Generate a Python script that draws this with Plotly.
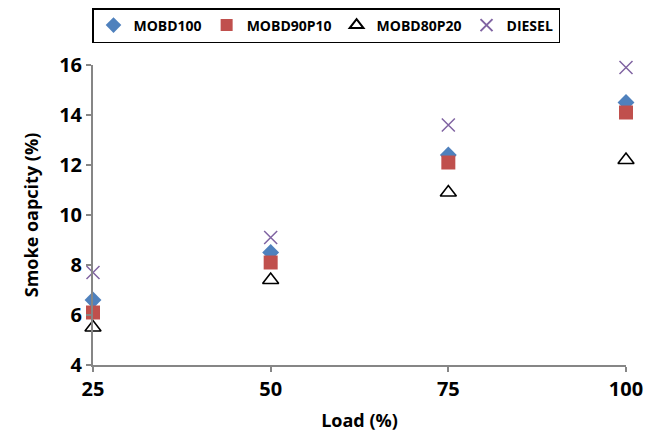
import plotly.graph_objects as go

load = [25, 50, 75, 100]
mobd100 = [6.6, 8.5, 12.4, 14.5]
mobd90p10 = [6.1, 8.1, 12.1, 14.1]
mobd80p20 = [5.5, 7.4, 10.9, 12.2]
diesel = [7.7, 9.1, 13.6, 15.9]

FONT = "Open Sans"
fig = go.Figure()
fig.add_trace(go.Scatter(x=load, y=mobd100, mode="markers", name="MOBD100",
                         marker=dict(symbol="diamond", size=13, color="#4F81BD")))
fig.add_trace(go.Scatter(x=load, y=mobd90p10, mode="markers", name="MOBD90P10",
                         marker=dict(symbol="square", size=14, color="#C0504D")))
fig.add_trace(go.Scatter(x=load, y=mobd80p20, mode="markers", name="MOBD80P20",
                         marker=dict(symbol="triangle-up-open", size=14, color="black",
                                     line=dict(width=1.6, color="black"))))
fig.add_trace(go.Scatter(x=load, y=diesel, mode="markers", name="DIESEL",
                         marker=dict(symbol="x-thin-open", size=13, color="#8064A2",
                                     line=dict(width=1.5, color="#8064A2"))))

fig.update_layout(
    width=657, height=433,
    margin=dict(l=93, r=31, t=65, b=68, autoexpand=False),
    plot_bgcolor="white", paper_bgcolor="white",
    font=dict(family=FONT, color="black"),
    showlegend=True,
    legend=dict(orientation="h", xref="container", yref="container",
                x=92/657, y=1-8/433, xanchor="left", yanchor="top",
                bordercolor="black", borderwidth=1.5,
                font=dict(family=FONT, size=14, color="black", weight="bold"),
                itemsizing="constant", itemwidth=30, tracegroupgap=0),
    xaxis=dict(range=[25, 100], tickvals=load, showgrid=False, zeroline=False,
               showline=True, linecolor="#868686", linewidth=2, automargin=False,
               ticks="outside", tickcolor="#868686", ticklen=5, tickwidth=2,
               tickfont=dict(family=FONT, size=20, weight="bold"),
               title=dict(text="Load (%)", font=dict(family=FONT, size=18, weight="bold"), standoff=13)),
    yaxis=dict(range=[4, 16], dtick=2, showgrid=False, zeroline=False,
               showline=True, linecolor="#868686", linewidth=2, automargin=False,
               ticks="outside", tickcolor="#868686", ticklen=5, tickwidth=2,
               tickfont=dict(family=FONT, size=20, weight="bold"),
               title=dict(text="Smoke oapcity (%)", font=dict(family=FONT, size=18, weight="bold"), standoff=16)),
)
fig.update_traces(cliponaxis=False)
fig.write_html("out.html")
